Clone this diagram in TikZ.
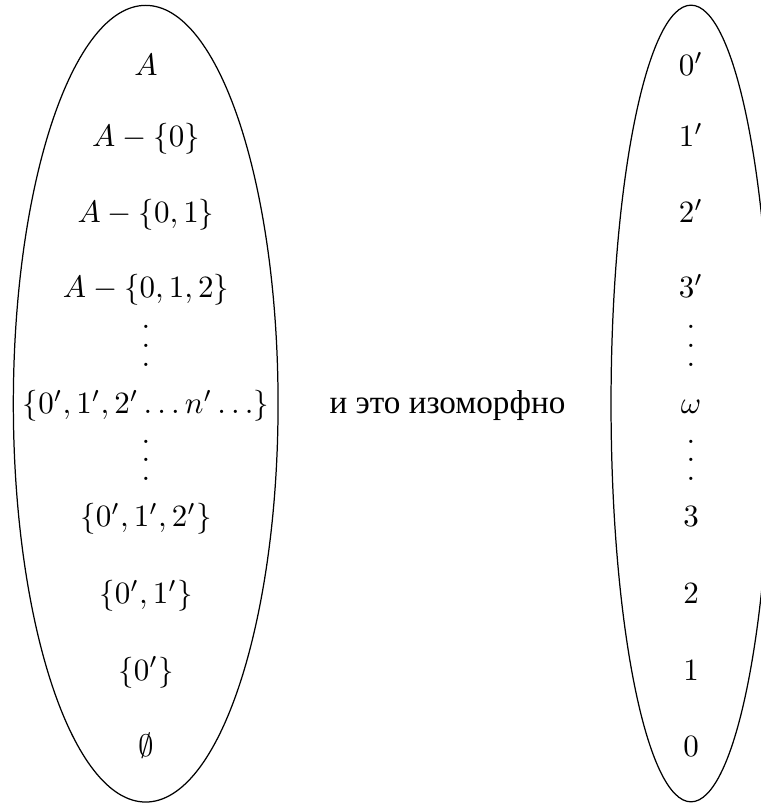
\documentclass[tikz,border=0pt]{standalone}
\usepackage{amsmath,amssymb}
\usepackage{fontspec}
\newfontfamily\rufont{Liberation Serif}
\usepackage{tikz}
\usetikzlibrary{shapes.geometric,positioning}

% three dots, a little wider apart than \vdots
\newcommand{\vdotsw}{\vbox{\baselineskip=6.06pt\lineskiplimit=0pt\hbox{.}\hbox{.}\hbox{.}}}

\begin{document}
\begin{tikzpicture}[
    x=0.3226pt, y=-0.3226pt,
    item/.style={anchor=base, inner sep=0pt},
    dotsbox/.style={inner sep=0pt},
    bag/.style={draw, ellipse, inner sep=0pt, minimum height=257pt}
]
    \useasboundingbox (0,0) rectangle (760,804);

    % Left chain of sets
    \node[bag, minimum width=85.4pt] (leftbag) at (145.7,403.7) {};
    \node[item] (setA)    at (146,75.5)  {$A$};
    \node[item] (setA0)   at (146,146.7) {$A-\{0\}$};
    \node[item] (setA01)  at (146,222.5) {$A-\{0,1\}$};
    \node[item] (setA012) at (146,298)   {$A-\{0,1,2\}$};
    \node[dotsbox] (ldotsU) at (146,345.6) {\vdotsw};
    \node[item] (setAll)  at (146,413.3) {$\{0',1',2'\ldots n'\ldots\}$};
    \node[dotsbox] (ldotsD) at (146,460.3) {\vdotsw};
    \node[item] (set012)  at (146,526.7) {$\{0',1',2'\}$};
    \node[item] (set01)   at (146,603.3) {$\{0',1'\}$};
    \node[item] (set0)    at (146,680)   {$\{0'\}$};
    \node[item] (empty)   at (146,756)   {$\emptyset$};

    % Text between
    \node[item] (iso) at (447.5,413.3) {\rufont\fontsize{10.7}{13}\selectfont и это изоморфно};

    % Right chain of ordinals
    \node[bag, minimum width=51.6pt] (rightbag) at (691,403.5) {};
    \node[item] (r0p) at (691,75.5)  {$0'$};
    \node[item] (r1p) at (691,146.7) {$1'$};
    \node[item] (r2p) at (691,222.5) {$2'$};
    \node[item] (r3p) at (691,298)   {$3'$};
    \node[dotsbox] (rdotsU) at (691,345.6) {\vdotsw};
    \node[item] (omega) at (691,413.3) {$\omega$};
    \node[dotsbox] (rdotsD) at (691,460.3) {\vdotsw};
    \node[item] (r3) at (691,526.7) {$3$};
    \node[item] (r2) at (691,603.3) {$2$};
    \node[item] (r1) at (691,680)   {$1$};
    \node[item] (r0) at (691,756)   {$0$};
\end{tikzpicture}
\end{document}
